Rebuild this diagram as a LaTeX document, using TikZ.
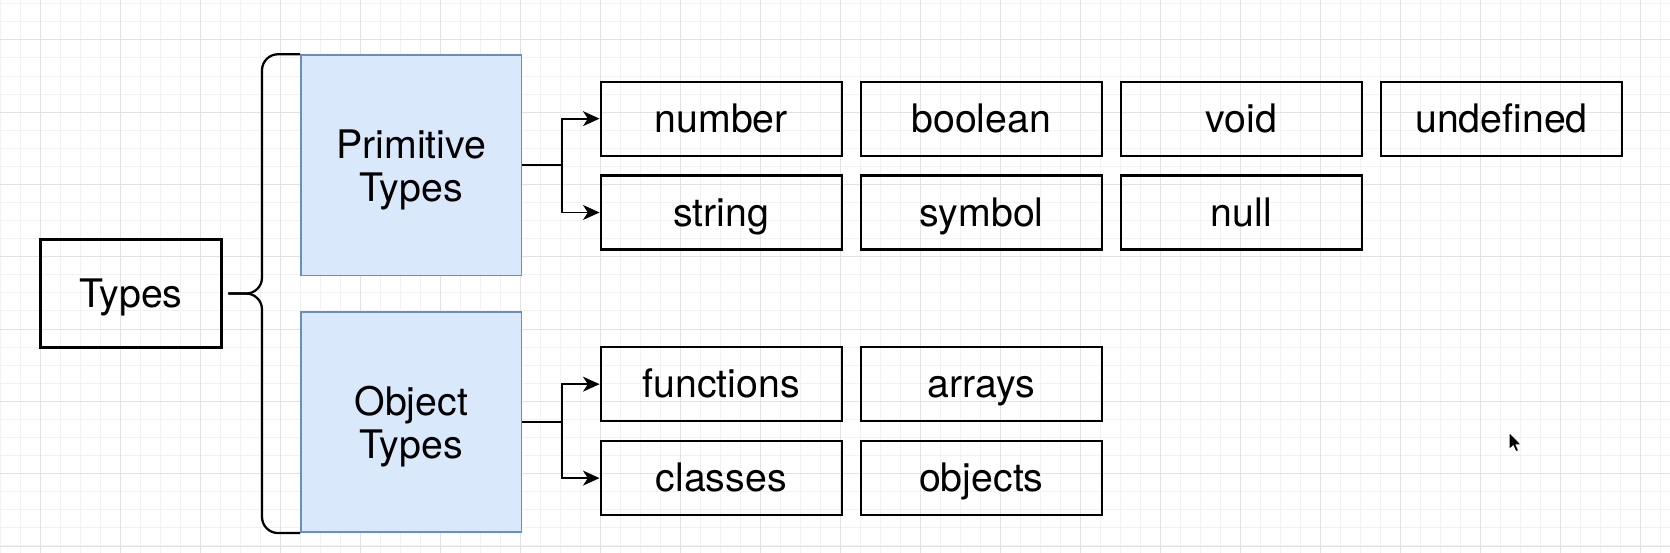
\documentclass[tikz,border=0pt]{standalone}
\usepackage{fontspec}
\setmainfont{TeX Gyre Heros}
\usetikzlibrary{arrows.meta}
\definecolor{kindfill}{HTML}{DAE8FC}
\definecolor{kindline}{HTML}{6C8EBF}
\definecolor{gridminor}{HTML}{F2F2F2}
\definecolor{gridmajor}{HTML}{E2E2E2}
\tikzset{basic/.style={draw,line width=1.2pt,inner sep=0pt,align=center,
                       font=\fontsize{21}{23}\selectfont}}
\tikzset{root/.style={basic,text height=15.1pt,text depth=0.6pt,
                      minimum width=3.4cm,minimum height=2.03cm}}
\tikzset{kind/.style={basic,draw=kindline,line width=0.9pt,fill=kindfill,
                      text depth=0pt,minimum width=4.14cm,minimum height=4.14cm}}
\tikzset{leaf/.style={basic,text height=15.1pt,text depth=0.6pt,
                      minimum width=4.53cm,minimum height=1.39cm}}
\tikzset{link/.style={line width=1pt,->}}
\tikzset{>={Stealth[length=0.31cm,width=0.28cm,inset=0.09cm]}}

\begin{document}
\begin{tikzpicture}[x=0.02cm,y=-0.02cm]

    % background grid
    \path[use as bounding box,fill=white] (0,0) rectangle (1568,519.2);
    \foreach \k in {0,...,83}{
        \draw[gridminor,line width=0.4pt] (0.44+18.775*\k,0) -- ++(0,519.2);
    }
    \foreach \k in {0,...,30}{
        \draw[gridminor,line width=0.4pt] (0,3.36+16.97*\k) -- ++(1568,0);
    }
    \foreach \k in {0,...,20}{
        \draw[gridmajor,line width=0.4pt] (38+75.1*\k,0) -- ++(0,519.2);
    }
    \foreach \k in {0,...,7}{
        \draw[gridmajor,line width=0.4pt] (0,37.3+67.9*\k) -- ++(1568,0);
    }

    % types
    \node[root] (types) at (123,275.6) {Types};
    \node[kind] (prim) at (386.1,155.2) {Primitive\\Types};
    \node[kind] (obj) at (386.1,396.2) {Object\\Types};

    % primitive types
    \foreach \t [count=\i] in {number,boolean,void,undefined}{
        \node[leaf] (p1\i) at (433+244.2*\i,111.4) {\t};
    }
    \foreach \t [count=\i] in {string,symbol,null}{
        \node[leaf] (p2\i) at (433+244.2*\i,199.5) {\t};
    }
    % object types
    \foreach \t [count=\i] in {functions,arrays}{
        \node[leaf] (o1\i) at (433+244.2*\i,360.7) {\t};
    }
    \foreach \t [count=\i] in {classes,objects}{
        \node[leaf] (o2\i) at (433+244.2*\i,448.9) {\t};
    }

    % brace
    \coordinate (tip) at ([xshift=0.11cm]types.east);
    \draw[line width=1.2pt,rounded corners=0.3cm] (prim.north west) -| ([xshift=0.63cm]tip) -- (tip);
    \draw[line width=1.2pt,rounded corners=0.3cm] (obj.south west) -| ([xshift=0.63cm]tip) -- (tip);

    % arrows
    \draw[link] (prim.east) -- ++(37,0) |- (p11);
    \draw[link] (prim.east) -- ++(37,0) |- (p21);
    \draw[link] (obj.east) -- ++(37,0) |- (o11);
    \draw[link] (obj.east) -- ++(37,0) |- (o21);

    % pointer
    \coordinate (cursor) at (1417,406);
    \filldraw[fill=black,draw=white,line width=0.4pt,shift={(cursor)}]
        (0,0) -- (0,16) -- (3.8,12.4) -- (6.3,18) -- (8.8,17) -- (6.4,11.6) -- (11.3,11.6) -- cycle;
\end{tikzpicture}
\end{document}
